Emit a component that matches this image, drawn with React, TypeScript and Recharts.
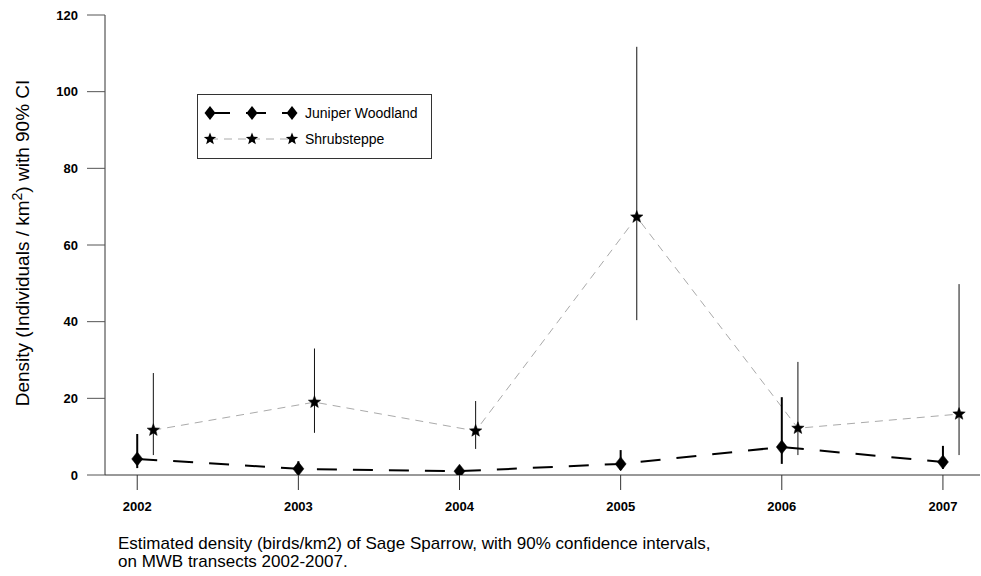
import React from 'react';
import { ComposedChart, Line, XAxis, YAxis, ErrorBar, Customized } from 'recharts';

// ---------- data ----------
const years = [2002, 2003, 2004, 2005, 2006, 2007];
const juniperValues = [4.2, 1.6, 1.0, 2.9, 7.3, 3.4];
const juniperLow = [1.8, 0.3, 0.1, 1.3, 2.9, 1.6];
const juniperHigh = [10.7, 3.6, 1.8, 6.5, 20.3, 7.6];
const shrubValues = [11.7, 19.0, 11.5, 67.3, 12.2, 15.9];
const shrubLow = [5.2, 11.0, 6.8, 40.4, 5.2, 5.2];
const shrubHigh = [26.6, 33.0, 19.3, 111.7, 29.5, 49.8];
const shrubYearOffset = 0.1;
const yTicks = [0, 20, 40, 60, 80, 100, 120];
const seriesNames = ['Juniper Woodland', 'Shrubsteppe'];
const yTitleParts = ['Density (Individuals / km', '2', ') with 90% CI'];
const captionLines = [
  'Estimated density (birds/km2) of Sage Sparrow, with 90% confidence intervals,',
  'on MWB transects 2002-2007.',
];

const juniperData = years.map((y, i) => ({
  x: y,
  value: juniperValues[i],
  ci: [juniperValues[i] - juniperLow[i], juniperHigh[i] - juniperValues[i]],
}));
const shrubData = years.map((y, i) => ({
  x: y + shrubYearOffset,
  value: shrubValues[i],
  ci: [shrubValues[i] - shrubLow[i], shrubHigh[i] - shrubValues[i]],
}));

const FONT = '"Liberation Sans", Arial, Helvetica, sans-serif';

const diamondPath = (cx: number, cy: number) =>
  `M${cx},${cy - 7}L${cx + 5.5},${cy}L${cx},${cy + 7}L${cx - 5.5},${cy}Z`;

const starPath = (cx: number, cy: number) => {
  const outer = 6.5;
  const inner = 2.8;
  let d = '';
  for (let k = 0; k < 10; k++) {
    const r = k % 2 === 0 ? outer : inner;
    const a = -Math.PI / 2 + (k * Math.PI) / 5;
    d += (k === 0 ? 'M' : 'L') + (cx + r * Math.cos(a)).toFixed(2) + ',' + (cy + r * Math.sin(a)).toFixed(2);
  }
  return d + 'Z';
};

const DiamondDot = (props: any) => {
  const { cx, cy, index } = props;
  if (cx == null || cy == null) return <g key={`d-${index}`} />;
  return <path key={`d-${index}`} d={diamondPath(cx, cy)} fill="#000" stroke="#000" strokeWidth={0.5} />;
};

const StarDot = (props: any) => {
  const { cx, cy, index } = props;
  if (cx == null || cy == null) return <g key={`s-${index}`} />;
  return <path key={`s-${index}`} d={starPath(cx, cy)} fill="#000" stroke="#000" strokeWidth={0.5} />;
};

const Decorations = () => {
  const lx = [210, 252, 292];
  const r1 = 113;
  const r2 = 139;
  return (
    <g fontFamily={FONT}>
      {/* legend */}
      <rect x={197.5} y={94.5} width={234} height={64} fill="#fff" stroke="#333" strokeWidth={1} />
      <line x1={lx[0]} y1={r1} x2={lx[2]} y2={r1} stroke="#000" strokeWidth={2} strokeDasharray="20 16" />
      {lx.map((x, i) => (
        <path key={`ld${i}`} d={diamondPath(x, r1)} fill="#000" />
      ))}
      <text x={305} y={r1 + 5} fontSize={14} fill="#000">{seriesNames[0]}</text>
      <line x1={lx[0]} y1={r2} x2={lx[2]} y2={r2} stroke="#aaa" strokeWidth={1} strokeDasharray="8 6" />
      {lx.map((x, i) => (
        <path key={`ls${i}`} d={starPath(x, r2)} fill="#000" />
      ))}
      <text x={305} y={r2 + 5} fontSize={14} fill="#000">{seriesNames[1]}</text>

      {/* y axis title */}
      <text x={29} y={243} transform="rotate(-90, 29, 243)" textAnchor="middle" fontSize={19} fill="#000">
        <tspan>{yTitleParts[0]}</tspan>
        <tspan dy={-7} fontSize={14}>{yTitleParts[1]}</tspan>
        <tspan dy={7}>{yTitleParts[2]}</tspan>
      </text>

      {/* caption */}
      <text x={118} y={549} fontSize={17} fill="#000">{captionLines[0]}</text>
      <text x={118} y={567} fontSize={17} fill="#000">{captionLines[1]}</text>
    </g>
  );
};

export default function App() {
  return (
    <div style={{ position: 'absolute', left: 0, top: 0, width: 981, height: 576, background: '#fff' }}>
      <ComposedChart
        width={981}
        height={576}
        margin={{ top: 15, right: 1, bottom: 61, left: 45 }}
      >
        <XAxis
          type="number"
          dataKey="x"
          domain={[2001.8, 2007.23]}
          allowDataOverflow
          ticks={years}
          tickFormatter={(v: number) => String(v)}
          height={40}
          tickSize={15}
          tickMargin={12}
          axisLine={{ stroke: '#333', strokeWidth: 1 }}
          tickLine={{ stroke: '#333', strokeWidth: 1 }}
          tick={{ fill: '#000', fontSize: 13, fontWeight: 'bold', fontFamily: FONT }}
        />
        <YAxis
          type="number"
          domain={[0, 120]}
          ticks={yTicks}
          allowDataOverflow
          width={60}
          tickSize={18}
          tickMargin={9}
          axisLine={{ stroke: '#333', strokeWidth: 1 }}
          tickLine={{ stroke: '#555', strokeWidth: 1 }}
          tick={{ fill: '#000', fontSize: 13, fontWeight: 'bold', fontFamily: FONT }}
        />
        <Line
          data={shrubData}
          dataKey="value"
          name={seriesNames[1]}
          stroke="#aaa"
          strokeWidth={1}
          strokeDasharray="8 6"
          dot={StarDot}
          activeDot={false}
          isAnimationActive={false}
        >
          <ErrorBar dataKey="ci" direction="y" width={0} stroke="#111" strokeWidth={1} isAnimationActive={false} />
        </Line>
        <Line
          data={juniperData}
          dataKey="value"
          name={seriesNames[0]}
          stroke="#000"
          strokeWidth={2}
          strokeDasharray="20 16"
          dot={DiamondDot}
          activeDot={false}
          isAnimationActive={false}
        >
          <ErrorBar dataKey="ci" direction="y" width={0} stroke="#000" strokeWidth={2} isAnimationActive={false} />
        </Line>
        <Customized component={Decorations} />
      </ComposedChart>
    </div>
  );
}
